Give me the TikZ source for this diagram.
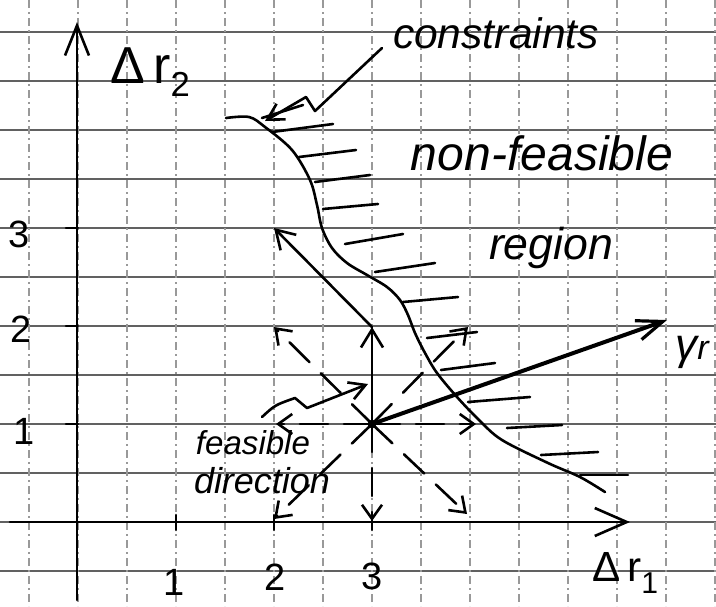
\documentclass[tikz,border=0pt]{standalone}
\usepackage{fontspec}
\setmainfont{Liberation Sans}
\usetikzlibrary{arrows.meta}
\newcommand\hwidth[2]{\resizebox{#1pt}{!}{#2}}
\begin{document}
\begin{tikzpicture}[x=0.5pt,y=-0.5pt,
  ink/.style={line width=1.3pt, line cap=round, line join=round},
  gridh/.style={draw=black!62, line width=1pt},
  gridv/.style={draw=black!40, line width=0.8pt, dash pattern=on 4pt off 2pt on 1pt off 2pt},
  barb/.style={-{Straight Barb[length=9pt,width=11pt,line width=1.3pt]}},
  dirdash/.style={ink, dash pattern=on 14pt off 8pt},
  hand/.style={font=\itshape, inner sep=0pt},
  ticklab/.style={font=\fontsize{19}{21}\selectfont, inner sep=0pt},
]
\useasboundingbox (0,0) rectangle (716,606);
\fill[white] (0,0) rectangle (716,606);
% graph paper
\foreach \y in {32,81,...,571} \draw[gridh] (0,\y) -- (716,\y);
\foreach \x in {29,78,...,715} \draw[gridv] (\x,0) -- (\x,606);
% coordinates
\coordinate (ybot) at (77,600);
\coordinate (ytop) at (77,22);
\coordinate (xl) at (10,522);
\coordinate (xr) at (630,522);
\coordinate (P) at (372,424);
\coordinate (U) at (372,327);
\coordinate (UL2) at (274,228);
\coordinate (G) at (667,320);
\coordinate (dUL) at (274,327);
\coordinate (dUR) at (468,327);
\coordinate (dL) at (276,424);
\coordinate (dR) at (476,424);
\coordinate (dDL) at (274,519);
\coordinate (dD) at (372,521);
\coordinate (dDR) at (467,514);
% axes
\draw[ink, -{Straight Barb[length=15pt,width=12pt,line width=1.3pt]}] (ybot) -- (ytop);
\draw[ink, -{Straight Barb[length=16pt,width=14pt,line width=1.3pt]}] (xl) -- (xr);
% ticks
\foreach \y in {424,326,228} \draw[ink] (66,\y) -- (78,\y);
\foreach \x in {176,274,372} \draw[ink] (\x,515) -- (\x,530);
\node[ticklab] (t1y) at (24,431) {1};
\node[ticklab] (t2y) at (21,329) {2};
\node[ticklab] (t3y) at (19,234) {3};
\node[ticklab] (t1x) at (174,582) {1};
\node[ticklab] (t2x) at (275,577) {2};
\node[ticklab] (t3x) at (372,576) {3};
% axis labels
\node[inner sep=0pt] (lr2) at (150,72) {\hwidth{40}{\fontsize{18}{20}\selectfont Δ\,r\raisebox{-0.5ex}{\fontsize{12}{14}\selectfont 2}}};
\node[inner sep=0pt] (lr1) at (625,573) {\hwidth{33}{\fontsize{14}{16}\selectfont Δ\,r\raisebox{-0.5ex}{\fontsize{10}{12}\selectfont 1}}};
\node[hand, anchor=west] (lg) at (675,352) {\fontsize{22}{24}\selectfont γ\fontsize{17}{19}\selectfont r};
% constraint curve
\draw[ink] plot[smooth, tension=0.55] coordinates {(226,118) (249,117) (265,127) (292,150) (310,180) (317,205) (322,228) (332,248) (347,263) (367,275) (387,287) (400,300) (408,315) (415,333) (425,353) (437,373) (457,397) (479,420) (502,440) (548,463) (580,477) (605,492)};
% hatching
\foreach \a/\b/\c/\d in {262/118/303/105, 272/132/333/124, 299/157/356/150, 315/182/370/175, 323/209/378/204, 345/244/403/234, 375/272/435/263, 403/302/458/297, 427/338/477/332, 441/370/495/363, 468/402/530/397, 507/428/562/425, 541/455/598/452, 580/475/628/475}
  \draw[ink] (\a,\b) -- (\c,\d);
% texts
\node[hand] (tcons) at (496,33) {\hwidth{103}{constraints}};
\node[hand] (tnf) at (542,153) {\hwidth{131}{non-feasible}};
\node[hand] (treg) at (551,248) {\hwidth{62}{region}};
\node[hand] (tfeas) at (253,443) {\hwidth{57}{feasible}};
\node[hand] (tdir) at (262,481) {\hwidth{68}{direction}};
% pointers
\coordinate (c0) at (382,48);
\coordinate (c1) at (265,121);
\draw[ink, -{Straight Barb[length=8pt,width=9pt,line width=1.3pt]}] (c0) -- (315,111) -- (306,97) -- (c1);
\coordinate (f0) at (262,417);
\coordinate (f1) at (368,384);
\draw[ink, -{Straight Barb[length=8pt,width=9pt,line width=1.3pt]}] (f0) .. controls (275,405) .. (295,398) -- (307,408) -- (f1);
% direction vectors
\foreach \t in {dUL,dUR,dL,dR,dDL,dD,dDR}
  \draw[dirdash, -{Straight Barb[length=7pt,width=10pt,line width=1.3pt]}] (P) -- (\t);
\draw[ink, barb] (P) -- (U);
\draw[ink, barb] (U) -- (UL2);
\draw[line width=2pt, line cap=round, -{Straight Barb[length=13pt,width=10pt,line width=1.6pt]}] (P) -- (G);
\fill (P) circle (2.2pt);
\end{tikzpicture}
\end{document}
